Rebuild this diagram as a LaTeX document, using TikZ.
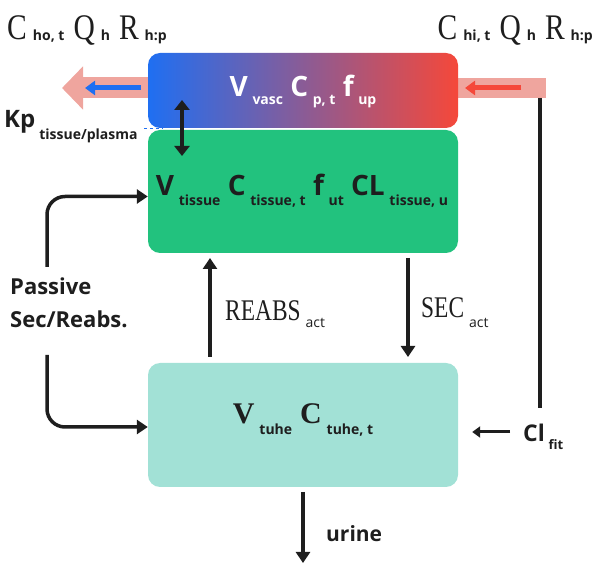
\documentclass[tikz,border=0pt]{standalone}
\usepackage{fontspec}
\usepackage{graphicx}
\setmainfont{Liberation Serif}
\newfontfamily\osans{Open Sans}
\usetikzlibrary{arrows.meta}

\definecolor{vblue}{HTML}{1F6FF2}
\definecolor{vred}{HTML}{F5483A}
\definecolor{tgreen}{HTML}{22C27E}
\definecolor{tuhec}{HTML}{A2E1D6}
\definecolor{hpink}{HTML}{EFA59E}
\definecolor{ink}{HTML}{1E1E1E}

% lowered small text: drop, size, text
\newcommand{\dn}[3]{\raisebox{-#1pt}{\fontsize{#2}{#2}\selectfont #3}}
\newcommand{\cond}[1]{\scalebox{0.78}[1]{#1}}
\newcommand{\hsub}[1]{\,{\osans\bfseries\dn{1}{14}{#1}}}
\newcommand{\hcap}[1]{\scalebox{0.82}[1]{#1}}

\begin{document}
\begin{tikzpicture}[x=1pt,y=1pt]
\tikzset{
  box/.style={rounded corners=12pt, minimum width=310pt, inner sep=0pt},
  flow/.style={ink, line width=3.5pt, -{Triangle[length=11pt 0 0, width=14pt 0 0]}},
  lab/.style={inner sep=0pt, text=ink, font=\osans\bfseries},
  hlab/.style={inner sep=0pt, text=ink, font=\fontsize{36}{36}\selectfont},
}
\useasboundingbox (0,0) rectangle (598,-569);
% hepatic in/out band
\coordinate (ho) at (62,-88);
\coordinate (hi) at (546,-88);
\coordinate (hoin) at (141,-88);
\coordinate (hotip) at (85,-88);
\coordinate (hiin) at (521,-88);
\coordinate (hitip) at (465,-88);
\draw [hpink, line width=21pt, -{Triangle[length=21pt 0 0, width=42pt 0 0]}] (148,-88) -- (ho);
\draw [hpink, line width=20pt] (hi) -- (457,-88);
\draw [vblue, line width=5pt, -{Triangle[length=10pt 0 0, width=14pt 0 0]}] (hoin) -- (hotip);
\draw [vred, line width=5pt, -{Triangle[length=10pt 0 0, width=14pt 0 0]}] (hiin) -- (hitip);
% compartments
\node [box, minimum height=75pt, left color=vblue, right color=vred] (vasc) at (303,-90.5) {};
\node [box, minimum height=123pt, fill=tgreen] (tissue) at (303,-191.5) {};
\node [box, minimum height=124pt, fill=tuhec] (tuhe) at (303,-425) {};
\node [lab, text=white, anchor=base] (vasclab) at (303,-97)
  {\fontsize{28}{28}\selectfont V\,\dn{8}{14}{vasc} C\,\dn{8}{14}{p, t} f\,\dn{8}{14}{up}};
\node [lab, anchor=base] (tissuelab) at (302,-196)
  {\fontsize{28}{28}\selectfont V\,\dn{10}{14}{tissue} C\,\dn{10}{14}{tissue, t} f\,\dn{10}{14}{ut} CL\,\dn{10}{14}{tissue, u}};
\node [inner sep=0pt, anchor=base, text=ink] (tuhelab) at (303,-424)
  {\fontsize{30}{30}\selectfont\bfseries V\,\osans\dn{11}{14}{tuhe} \rmfamily C\,\osans\dn{11}{14}{tuhe, t}};
% hepatic labels
\node [hlab, anchor=base west] (hout) at (7,-40)
  {\hcap{C}\hsub{ho, t} \hcap{Q}\hsub{h} \hcap{R}\hsub{h:p}};
\node [hlab, anchor=base east] (hin) at (593,-40)
  {\hcap{C}\hsub{hi, t} \hcap{Q}\hsub{h} \hcap{R}\hsub{h:p}};
\node [lab, anchor=base west] (kp) at (4,-128)
  {\fontsize{24}{24}\selectfont Kp\,\dn{12}{14}{tissue/plasma}};
\draw [vblue, thin, dashed] (144,-128) -- (163,-128);
% vascular <-> tissue
\coordinate (kpa) at (182,-100);
\coordinate (kpb) at (182,-156);
\draw [ink, line width=3.5pt, {Triangle[length=10pt 0 0, width=15pt 0 0]}-{Triangle[length=10pt 0 0, width=15pt 0 0]}] (kpa) -- (kpb);
% passive exchange
\node [lab, anchor=base west, align=left, font=\osans\bfseries\fontsize{22}{33}\selectfont] (passive) at (10,-328)
  {Passive\\Sec/Reabs.};
\coordinate (pup) at (47,-267);
\coordinate (pdown) at (47,-355);
\draw [flow, rounded corners=18pt] (pup) |- ([yshift=-5pt]tissue.west);
\draw [flow, rounded corners=18pt] (pdown) |- ([yshift=-2pt]tuhe.west);
% active transport
\coordinate (rea) at (210,-357);
\coordinate (reb) at (210,-258);
\coordinate (seca) at (408,-258);
\coordinate (secb) at (408,-357);
\draw [flow] (rea) -- (reb);
\draw [flow] (seca) -- (secb);
\node [inner sep=0pt, anchor=base west, text=ink] (reabs) at (225,-321)
  {\fontsize{30}{30}\selectfont\cond{REABS}\,\osans\dn{7}{14}{act}};
\node [inner sep=0pt, anchor=base west, text=ink] (sec) at (421,-318)
  {\fontsize{30}{30}\selectfont\cond{SEC}\,\osans\dn{10}{14}{act}};
% filtration
\coordinate (ftop) at (540,-98);
\coordinate (fbot) at (540,-408);
\draw [ink, line width=3.5pt] (ftop) -- (fbot);
\node [lab, anchor=base west] (clfit) at (523,-442)
  {\fontsize{23}{23}\selectfont Cl\,\dn{8}{13}{fit}};
\draw [ink, line width=3pt, -{Triangle[length=8pt 0 0, width=11pt 0 0]}, shorten <=13pt, shorten >=14pt] (clfit.west |- 0,-432) -- (tuhe.east |- 0,-432);
% urine
\coordinate (ua) at (303,-492);
\coordinate (ub) at (303,-563);
\draw [flow] (ua) -- (ub);
\node [lab, anchor=base west] (urine) at (326,-542) {\fontsize{21}{21}\selectfont urine};
\end{tikzpicture}
\end{document}
